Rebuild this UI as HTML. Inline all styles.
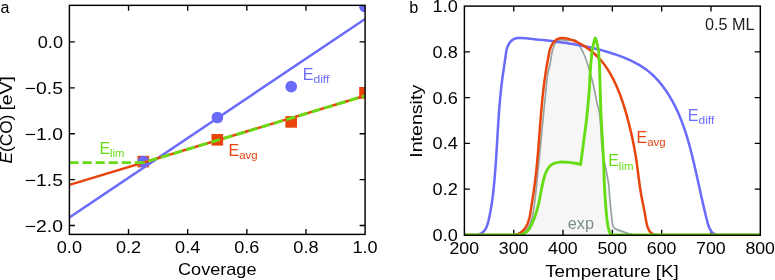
<!DOCTYPE html>
<html><head><meta charset="utf-8"><title>chart</title>
<style>html,body{margin:0;padding:0;background:#fff;}svg{display:block;}text{font-family:"Liberation Sans",sans-serif;}</style>
</head><body>
<svg width="775" height="280" viewBox="0 0 775 280">
<rect x="0" y="0" width="775" height="280" fill="#ffffff"/>
<defs>
<clipPath id="cl"><rect x="69.4" y="5.35" width="295.70000000000005" height="229.05"/></clipPath>
<clipPath id="cr"><rect x="464.4" y="6.1" width="295.9" height="229.15"/></clipPath>
</defs>
<path d="M464.5 234.95C472.42 234.95 503.42 234.99 512 234.95C513.44 234.94 514.57 234.88 516 234.7C517.5 234.51 519.33 234.55 521 233.8C522.75 233.02 524.97 231.86 526.5 230C528.12 228.03 529.57 225 530.7 222C531.83 219 532.7 215.67 533.3 212C534.23 206.33 535.38 196.66 536.3 188C537.72 174.67 539.95 150.67 541.8 132C543.65 113.33 546.02 87.38 547.4 76C547.95 71.52 549.32 67.75 550.1 63.75C550.88 59.75 551.38 55.12 552.1 52C552.69 49.41 553.58 46.78 554.4 45C555.08 43.52 555.86 42.2 557 41.3C558.14 40.4 559.71 39.72 561.25 39.6C562.79 39.48 564.79 40.5 566.25 40.6C567.6 40.69 568.65 40.29 570 40.2C571.46 40.1 573.75 39.62 575 40C576.22 40.37 576.72 41.49 577.5 42.5C578.33 43.58 579.18 45.02 580 46.5C581.04 48.38 582.71 51.5 583.75 53.75C584.77 55.95 585.48 57.7 586.25 60C587.29 63.12 588.96 68.96 590 72.5C590.92 75.64 591.71 78.07 592.5 81.25C593.33 84.58 594.27 88.96 595 92.5C595.73 96.04 596.17 99.17 596.9 102.5C597.63 105.83 598.8 108.84 599.4 112.5C600.02 116.25 600.25 120.49 600.6 125C601.08 131.25 601.47 142.92 602.3 150C603.05 156.37 604.73 162.92 605.6 167.5C606.28 171.1 606.98 174.58 607.5 177.5C607.98 180.19 608.44 182.28 608.75 185C609.12 188.25 609.31 192.68 609.7 197C610.14 201.88 610.85 209.47 611.4 214.3C611.88 218.52 612.35 223.58 613 226C613.34 227.26 614.18 228.13 615.3 228.8C616.8 229.7 619.8 230.62 622 231.4C624.2 232.18 626.7 232.95 628.5 233.5C630.04 233.97 631.38 234.46 632.8 234.7C634.22 234.94 635.49 234.95 637 234.95C658.28 234.99 739.92 234.95 760.5 234.95Z" fill="#f6f6f6" stroke="none" clip-path="url(#cr)"/>
<g stroke="#000000" stroke-width="1.35" fill="none" stroke-linecap="butt">
<path d="M128.54 234.4v-5.5M128.54 5.35v5.5"/>
<path d="M187.68 234.4v-5.5M187.68 5.35v5.5"/>
<path d="M246.82 234.4v-5.5M246.82 5.35v5.5"/>
<path d="M305.96 234.4v-5.5M305.96 5.35v5.5"/>
<path d="M69.4 225.5h5.5M365.1 225.5h-5.5"/>
<path d="M69.4 179.6h5.5M365.1 179.6h-5.5"/>
<path d="M69.4 133.7h5.5M365.1 133.7h-5.5"/>
<path d="M69.4 87.8h5.5M365.1 87.8h-5.5"/>
<path d="M69.4 41.9h5.5M365.1 41.9h-5.5"/>
<path d="M513.72 235.25v-5.5M513.72 6.1v5.5"/>
<path d="M563.03 235.25v-5.5M563.03 6.1v5.5"/>
<path d="M612.35 235.25v-5.5M612.35 6.1v5.5"/>
<path d="M661.67 235.25v-5.5M661.67 6.1v5.5"/>
<path d="M710.98 235.25v-5.5M710.98 6.1v5.5"/>
<path d="M464.4 189.14h5.5M760.3 189.14h-5.5"/>
<path d="M464.4 143.38h5.5M760.3 143.38h-5.5"/>
<path d="M464.4 97.62h5.5M760.3 97.62h-5.5"/>
<path d="M464.4 51.86h5.5M760.3 51.86h-5.5"/>
</g>
<g clip-path="url(#cl)">
<rect x="137.5" y="155.8" width="11.6" height="11.6" fill="#e8440b"/>
<rect x="211.5" y="134" width="11.6" height="11.6" fill="#e8440b"/>
<rect x="285.4" y="116.1" width="11.6" height="11.6" fill="#e8440b"/>
<rect x="359.2" y="87.1" width="11.6" height="11.6" fill="#e8440b"/>
<circle cx="143.4" cy="161.7" r="5.85" fill="#6a6afb"/>
<circle cx="217.4" cy="117.5" r="5.85" fill="#6a6afb"/>
<circle cx="291.2" cy="86.6" r="5.85" fill="#6a6afb"/>
<circle cx="365" cy="6.5" r="5.85" fill="#6a6afb"/>
<line x1="69.4" y1="217.5" x2="365.1" y2="19.0" stroke="#6a6afb" stroke-width="2.5"/>
<line x1="69.4" y1="184.9" x2="365.1" y2="95.8" stroke="#e8440b" stroke-width="2.5"/>
<path d="M69.4 162.6H143.41" fill="none" stroke="#66dc14" stroke-width="2.9" stroke-dasharray="9.2 3.9"/>
<path d="M143.41 162.6L365.1 95.8" fill="none" stroke="#66dc14" stroke-width="2.9" stroke-dasharray="9.2 3.9" stroke-dashoffset="7.9"/>
</g>
<g clip-path="url(#cr)" fill="none" stroke-linejoin="round">
<path d="M464.5 234.95C472.42 234.95 503.42 234.99 512 234.95C513.44 234.94 514.57 234.88 516 234.7C517.5 234.51 519.33 234.55 521 233.8C522.75 233.02 524.97 231.86 526.5 230C528.12 228.03 529.57 225 530.7 222C531.83 219 532.7 215.67 533.3 212C534.23 206.33 535.38 196.66 536.3 188C537.72 174.67 539.95 150.67 541.8 132C543.65 113.33 546.02 87.38 547.4 76C547.95 71.52 549.32 67.75 550.1 63.75C550.88 59.75 551.38 55.12 552.1 52C552.69 49.41 553.58 46.78 554.4 45C555.08 43.52 555.86 42.2 557 41.3C558.14 40.4 559.71 39.72 561.25 39.6C562.79 39.48 564.79 40.5 566.25 40.6C567.6 40.69 568.65 40.29 570 40.2C571.46 40.1 573.75 39.62 575 40C576.22 40.37 576.72 41.49 577.5 42.5C578.33 43.58 579.18 45.02 580 46.5C581.04 48.38 582.71 51.5 583.75 53.75C584.77 55.95 585.48 57.7 586.25 60C587.29 63.12 588.96 68.96 590 72.5C590.92 75.64 591.71 78.07 592.5 81.25C593.33 84.58 594.27 88.96 595 92.5C595.73 96.04 596.17 99.17 596.9 102.5C597.63 105.83 598.8 108.84 599.4 112.5C600.02 116.25 600.25 120.49 600.6 125C601.08 131.25 601.47 142.92 602.3 150C603.05 156.37 604.73 162.92 605.6 167.5C606.28 171.1 606.98 174.58 607.5 177.5C607.98 180.19 608.44 182.28 608.75 185C609.12 188.25 609.31 192.68 609.7 197C610.14 201.88 610.85 209.47 611.4 214.3C611.88 218.52 612.35 223.58 613 226C613.34 227.26 614.18 228.13 615.3 228.8C616.8 229.7 619.8 230.62 622 231.4C624.2 232.18 626.7 232.95 628.5 233.5C630.04 233.97 631.38 234.46 632.8 234.7C634.22 234.94 635.49 234.95 637 234.95C658.28 234.99 739.92 234.95 760.5 234.95" stroke="#96a2a4" stroke-width="1.7"/>
<path d="M464.5 234.95L466.03 234.95L468.08 234.95L470.21 234.95L472.39 234.95L474.58 234.95L476.74 234.82L478.81 234.37L480.74 233.61L482.48 232.5L484 231.08L485.28 229.41L486.31 227.55L487.13 225.55L487.78 223.46L488.33 221.32L488.82 219.17L489.29 217.05L489.73 214.94L490.15 212.84L490.55 210.75L490.92 208.67L491.28 206.59L491.62 204.51L491.93 202.43L492.23 200.33L492.51 198.23L492.78 196.13L493.03 194.02L493.27 191.91L493.5 189.79L493.72 187.67L493.93 185.56L494.14 183.44L494.34 181.31L494.53 179.19L494.71 177.07L494.89 174.94L495.06 172.82L495.22 170.69L495.39 168.56L495.54 166.43L495.69 164.3L495.84 162.17L495.99 160.04L496.13 157.91L496.27 155.78L496.4 153.64L496.54 151.51L496.67 149.38L496.8 147.24L496.93 145.11L497.05 142.98L497.18 140.84L497.31 138.71L497.43 136.58L497.56 134.44L497.69 132.31L497.82 130.18L497.95 128.04L498.09 125.91L498.22 123.78L498.36 121.65L498.51 119.52L498.65 117.39L498.8 115.26L498.95 113.13L499.11 111L499.27 108.87L499.44 106.75L499.62 104.62L499.8 102.5L499.98 100.38L500.17 98.26L500.37 96.14L500.58 94.02L500.79 91.9L501.02 89.79L501.25 87.67L501.49 85.56L501.74 83.45L501.99 81.34L502.26 79.24L502.54 77.13L502.83 75.03L503.13 72.93L503.43 70.83L503.74 68.73L504.06 66.62L504.37 64.52L504.68 62.41L504.99 60.29L505.29 58.17L505.58 56.04L505.87 53.9L506.2 51.77L506.64 49.66L507.23 47.58L508.05 45.54L509.13 43.57L510.46 41.76L512.02 40.24L513.73 39.13L515.59 38.42L517.55 38.04L519.59 37.92L521.7 37.98L523.84 38.15L525.99 38.36L528.14 38.57L530.29 38.78L532.43 38.99L534.58 39.21L536.72 39.43L538.85 39.65L540.99 39.88L543.13 40.11L545.26 40.35L547.39 40.59L549.51 40.83L551.64 41.09L553.76 41.35L555.88 41.61L558 41.89L560.11 42.17L562.22 42.46L564.33 42.77L566.44 43.08L568.54 43.4L570.64 43.73L572.74 44.07L574.84 44.43L576.93 44.79L579.02 45.17L581.11 45.56L583.19 45.97L585.27 46.39L587.35 46.82L589.42 47.27L591.49 47.74L593.56 48.22L595.63 48.71L597.69 49.23L599.75 49.76L601.8 50.31L603.85 50.87L605.9 51.46L607.94 52.06L609.99 52.69L612.02 53.33L614.06 54L616.09 54.68L618.11 55.39L620.13 56.13L622.13 56.89L624.13 57.68L626.11 58.49L628.08 59.34L630.03 60.22L631.96 61.13L633.87 62.08L635.76 63.07L637.62 64.09L639.46 65.16L641.27 66.26L643.05 67.41L644.8 68.6L646.52 69.84L648.2 71.12L649.84 72.46L651.45 73.84L653.01 75.28L654.54 76.75L656.03 78.28L657.48 79.84L658.9 81.44L660.28 83.08L661.63 84.75L662.94 86.45L664.22 88.18L665.46 89.93L666.67 91.71L667.84 93.51L668.99 95.33L670.1 97.17L671.18 99.02L672.23 100.88L673.25 102.76L674.24 104.65L675.21 106.55L676.14 108.46L677.05 110.38L677.93 112.32L678.79 114.26L679.63 116.22L680.44 118.18L681.22 120.16L681.99 122.14L682.73 124.13L683.46 126.14L684.16 128.14L684.85 130.16L685.51 132.18L686.16 134.21L686.8 136.24L687.41 138.28L688.02 140.33L688.6 142.38L689.18 144.43L689.74 146.49L690.29 148.55L690.83 150.62L691.36 152.69L691.88 154.76L692.39 156.83L692.89 158.91L693.39 160.98L693.88 163.06L694.36 165.13L694.84 167.21L695.31 169.28L695.78 171.36L696.25 173.43L696.71 175.51L697.18 177.58L697.64 179.65L698.1 181.73L698.56 183.8L699.01 185.88L699.47 187.95L699.93 190.03L700.39 192.11L700.86 194.19L701.32 196.27L701.79 198.35L702.26 200.43L702.73 202.52L703.21 204.6L703.69 206.69L704.17 208.78L704.67 210.88L705.16 212.97L705.67 215.07L706.18 217.17L706.69 219.28L707.22 221.38L707.78 223.48L708.41 225.54L709.16 227.54L710.08 229.45L711.19 231.23L712.53 232.75L714.14 233.88L716 234.61L718.04 234.95L720.21 234.95L722.43 234.95L724.66 234.95L726.84 234.95L728.95 234.95L730.97 234.95L760.5 234.95" stroke="#6a6afb" stroke-width="2.5"/>
<path d="M464.5 234.95L500.01 234.95L501.82 234.95L503.63 234.95L505.44 234.95L507.26 234.95L509.09 234.95L510.94 234.95L512.79 234.95L514.63 234.84L516.42 234.51L518.14 233.97L519.77 233.17L521.28 232.15L522.66 230.98L523.9 229.69L525 228.3L525.96 226.83L526.81 225.27L527.55 223.65L528.2 221.97L528.76 220.24L529.25 218.47L529.67 216.66L530.05 214.82L530.38 212.97L530.69 211.11L530.97 209.25L531.25 207.4L531.54 205.56L531.82 203.74L532.1 201.93L532.38 200.13L532.66 198.33L532.94 196.55L533.21 194.76L533.48 192.99L533.74 191.21L534 189.43L534.25 187.66L534.49 185.87L534.73 184.09L534.96 182.3L535.18 180.52L535.4 178.72L535.61 176.93L535.82 175.13L536.02 173.33L536.21 171.53L536.4 169.73L536.59 167.92L536.77 166.12L536.94 164.31L537.11 162.5L537.28 160.68L537.45 158.87L537.61 157.06L537.76 155.24L537.92 153.42L538.07 151.6L538.22 149.78L538.37 147.96L538.51 146.14L538.66 144.31L538.8 142.49L538.94 140.67L539.08 138.84L539.22 137.01L539.36 135.19L539.5 133.36L539.64 131.54L539.78 129.71L539.92 127.88L540.06 126.06L540.2 124.23L540.34 122.4L540.49 120.58L540.63 118.75L540.78 116.93L540.93 115.11L541.08 113.28L541.24 111.46L541.4 109.64L541.56 107.82L541.72 106L541.89 104.18L542.06 102.36L542.24 100.55L542.42 98.73L542.61 96.92L542.8 95.11L542.99 93.3L543.19 91.49L543.4 89.69L543.61 87.88L543.83 86.08L544.05 84.28L544.29 82.49L544.52 80.69L544.77 78.9L545.02 77.11L545.28 75.32L545.55 73.54L545.82 71.76L546.11 69.97L546.4 68.19L546.69 66.41L547 64.63L547.31 62.84L547.62 61.06L547.95 59.27L548.28 57.47L548.61 55.67L548.95 53.87L549.32 52.07L549.75 50.28L550.27 48.51L550.91 46.78L551.71 45.1L552.67 43.49L553.79 42.01L555.05 40.71L556.45 39.63L557.99 38.82L559.64 38.31L561.39 38.08L563.21 38.08L565.06 38.27L566.93 38.61L568.77 39.06L570.58 39.58L572.33 40.15L574.05 40.78L575.73 41.47L577.37 42.21L578.98 43L580.56 43.84L582.12 44.73L583.65 45.65L585.17 46.63L586.67 47.64L588.15 48.69L589.61 49.77L591.05 50.9L592.47 52.06L593.86 53.25L595.22 54.48L596.55 55.74L597.86 57.03L599.12 58.35L600.35 59.7L601.55 61.08L602.7 62.48L603.82 63.92L604.91 65.37L605.96 66.85L606.98 68.35L607.96 69.87L608.92 71.41L609.85 72.97L610.75 74.54L611.63 76.13L612.48 77.73L613.31 79.35L614.12 80.98L614.91 82.61L615.67 84.26L616.42 85.92L617.15 87.58L617.85 89.26L618.55 90.94L619.22 92.63L619.87 94.33L620.51 96.03L621.14 97.74L621.75 99.46L622.34 101.19L622.92 102.92L623.49 104.65L624.04 106.39L624.58 108.13L625.11 109.88L625.63 111.63L626.13 113.39L626.63 115.14L627.12 116.9L627.59 118.67L628.06 120.43L628.52 122.19L628.97 123.96L629.42 125.72L629.86 127.49L630.29 129.25L630.71 131.02L631.12 132.79L631.53 134.56L631.93 136.33L632.31 138.11L632.69 139.88L633.07 141.66L633.43 143.44L633.78 145.22L634.12 147L634.46 148.78L634.78 150.57L635.1 152.36L635.4 154.15L635.7 155.95L635.98 157.74L636.26 159.54L636.52 161.35L636.78 163.15L637.03 164.96L637.27 166.77L637.51 168.58L637.75 170.39L637.98 172.2L638.21 174.01L638.45 175.82L638.68 177.63L638.92 179.44L639.16 181.25L639.4 183.05L639.65 184.86L639.91 186.66L640.17 188.46L640.45 190.26L640.74 192.05L641.03 193.84L641.34 195.62L641.67 197.4L642.01 199.18L642.36 200.95L642.71 202.72L643.08 204.49L643.44 206.26L643.8 208.04L644.16 209.83L644.51 211.62L644.85 213.41L645.18 215.22L645.48 217.04L645.78 218.88L646.09 220.71L646.44 222.53L646.85 224.33L647.34 226.11L647.94 227.85L648.67 229.54L649.56 231.12L650.64 232.51L651.94 233.63L653.46 234.42L655.15 234.89L656.96 234.95L658.84 234.95L660.73 234.95L662.6 234.95L664.44 234.95L666.24 234.95L667.98 234.95L760.5 234.95" stroke="#e8440b" stroke-width="2.5"/>
<path d="M464.5 234.95C472.92 234.95 505.92 234.99 515 234.95C516.44 234.94 517.57 234.88 519 234.7C520.5 234.51 522.4 234.69 524 233.8C525.7 232.85 527.8 231.13 529.2 229C530.93 226.37 532.86 222.1 534.4 218C535.97 213.83 537.38 209 538.6 204C539.82 199 540.7 192.67 541.7 188C542.63 183.65 543.5 179.33 544.6 176C545.59 172.99 546.9 170.03 548.3 168C549.59 166.13 551.05 164.78 553 163.8C554.95 162.82 557.42 162.33 560 162.1C562.67 161.87 566.5 162.2 569 162.4C571.18 162.57 573.07 162.97 575 163.3C576.93 163.63 579.67 164.22 580.6 164.4C580.82 162.83 581.45 158.39 581.9 155C582.47 150.77 583.24 144.76 584 139C584.77 133.17 585.76 126.86 586.5 120C587.38 111.83 588.72 97.33 589.3 90C589.7 84.97 589.77 80.17 590 76C590.22 72.04 590.5 67.67 590.7 65C590.84 63.2 591.04 61.8 591.2 60C591.38 57.92 591.57 54.5 591.8 52.5C591.99 50.87 592.35 49.3 592.6 48C592.83 46.81 593.1 45.62 593.3 44.7C593.47 43.91 593.63 43.22 593.8 42.5C593.97 41.78 594.14 40.98 594.3 40.4C594.44 39.89 594.58 39.4 594.75 39C594.91 38.62 595.12 38 595.3 38C595.48 38 595.69 38.62 595.85 39C596.02 39.4 596.16 39.89 596.3 40.4C596.46 40.98 596.63 41.78 596.8 42.5C596.97 43.22 597.13 43.91 597.3 44.7C597.5 45.62 597.79 46.8 598 48C598.23 49.3 598.55 50.87 598.7 52.5C598.88 54.5 598.97 57.92 599.1 60C599.22 61.8 599.42 63.2 599.5 65C599.62 67.67 599.69 72.04 599.8 76C599.92 80.17 600.03 84.96 600.2 90C600.44 97.33 600.74 109.21 601.25 120C601.77 130.83 602.77 144.17 603.3 155C603.82 165.79 604.05 177.27 604.4 185C604.67 190.91 604.95 195.5 605.4 201.4C605.85 207.35 606.45 215.67 607.1 220.7C607.61 224.67 608.58 229.28 609.3 231.6C609.69 232.86 610.62 234.04 611.4 234.6C612.17 235.15 613.06 234.95 614 234.95C638.85 235.01 736.08 234.95 760.5 234.95" stroke="#66dc14" stroke-width="2.9" stroke-linejoin="miter" stroke-miterlimit="1.8"/>
</g>
<g stroke="#000000" stroke-width="1.45" fill="none">
<rect x="69.4" y="5.35" width="295.7" height="229.05"/>
<rect x="464.4" y="6.1" width="295.9" height="229.15"/>
</g>
<g font-family='"Liberation Sans", sans-serif' opacity="0.999">
<text x="56.8" y="253" font-size="16.6" text-anchor="start" fill="#000000" textLength="25.2" lengthAdjust="spacingAndGlyphs">0.0</text>
<text x="115.94" y="253" font-size="16.6" text-anchor="start" fill="#000000" textLength="25.2" lengthAdjust="spacingAndGlyphs">0.2</text>
<text x="175.08" y="253" font-size="16.6" text-anchor="start" fill="#000000" textLength="25.2" lengthAdjust="spacingAndGlyphs">0.4</text>
<text x="234.22" y="253" font-size="16.6" text-anchor="start" fill="#000000" textLength="25.2" lengthAdjust="spacingAndGlyphs">0.6</text>
<text x="293.36" y="253" font-size="16.6" text-anchor="start" fill="#000000" textLength="25.2" lengthAdjust="spacingAndGlyphs">0.8</text>
<text x="352.5" y="253" font-size="16.6" text-anchor="start" fill="#000000" textLength="25.2" lengthAdjust="spacingAndGlyphs">1.0</text>
<text x="24.8" y="231.5" font-size="16.6" text-anchor="start" fill="#000000" textLength="38.2" lengthAdjust="spacingAndGlyphs">−2.0</text>
<text x="24.8" y="185.6" font-size="16.6" text-anchor="start" fill="#000000" textLength="38.2" lengthAdjust="spacingAndGlyphs">−1.5</text>
<text x="24.8" y="139.7" font-size="16.6" text-anchor="start" fill="#000000" textLength="38.2" lengthAdjust="spacingAndGlyphs">−1.0</text>
<text x="24.8" y="93.8" font-size="16.6" text-anchor="start" fill="#000000" textLength="38.2" lengthAdjust="spacingAndGlyphs">−0.5</text>
<text x="37.8" y="47.9" font-size="16.6" text-anchor="start" fill="#000000" textLength="25.2" lengthAdjust="spacingAndGlyphs">0.0</text>
<text x="178" y="275.2" font-size="16.6" text-anchor="start" fill="#000000" textLength="78.5" lengthAdjust="spacingAndGlyphs">Coverage</text>
<text transform="translate(12.1 163.6) rotate(-90)" font-size="16.6" fill="#000000" textLength="49.0" lengthAdjust="spacingAndGlyphs"><tspan font-style="italic">E</tspan>(CO)</text>
<text transform="translate(12.1 110.5) rotate(-90)" font-size="16.6" fill="#000000" textLength="34.4" lengthAdjust="spacingAndGlyphs">[eV]</text>
<text x="449.5" y="253.7" font-size="16.6" text-anchor="start" fill="#000000" textLength="29.6" lengthAdjust="spacingAndGlyphs">200</text>
<text x="498.82" y="253.7" font-size="16.6" text-anchor="start" fill="#000000" textLength="29.6" lengthAdjust="spacingAndGlyphs">300</text>
<text x="548.13" y="253.7" font-size="16.6" text-anchor="start" fill="#000000" textLength="29.6" lengthAdjust="spacingAndGlyphs">400</text>
<text x="597.45" y="253.7" font-size="16.6" text-anchor="start" fill="#000000" textLength="29.6" lengthAdjust="spacingAndGlyphs">500</text>
<text x="646.77" y="253.7" font-size="16.6" text-anchor="start" fill="#000000" textLength="29.6" lengthAdjust="spacingAndGlyphs">600</text>
<text x="696.08" y="253.7" font-size="16.6" text-anchor="start" fill="#000000" textLength="29.6" lengthAdjust="spacingAndGlyphs">700</text>
<text x="745.4" y="253.7" font-size="16.6" text-anchor="start" fill="#000000" textLength="29.6" lengthAdjust="spacingAndGlyphs">800</text>
<text x="432.6" y="241" font-size="16.6" text-anchor="start" fill="#000000" textLength="25.2" lengthAdjust="spacingAndGlyphs">0.0</text>
<text x="432.6" y="195.24" font-size="16.6" text-anchor="start" fill="#000000" textLength="25.2" lengthAdjust="spacingAndGlyphs">0.2</text>
<text x="432.6" y="149.48" font-size="16.6" text-anchor="start" fill="#000000" textLength="25.2" lengthAdjust="spacingAndGlyphs">0.4</text>
<text x="432.6" y="103.72" font-size="16.6" text-anchor="start" fill="#000000" textLength="25.2" lengthAdjust="spacingAndGlyphs">0.6</text>
<text x="432.6" y="57.96" font-size="16.6" text-anchor="start" fill="#000000" textLength="25.2" lengthAdjust="spacingAndGlyphs">0.8</text>
<text x="432.6" y="12.2" font-size="16.6" text-anchor="start" fill="#000000" textLength="25.2" lengthAdjust="spacingAndGlyphs">1.0</text>
<text x="545.2" y="276.5" font-size="16.6" text-anchor="start" fill="#000000" textLength="133.6" lengthAdjust="spacingAndGlyphs">Temperature [K]</text>
<text transform="translate(422.1 157.8) rotate(-90)" font-size="16.6" fill="#000000" textLength="73" lengthAdjust="spacingAndGlyphs">Intensity</text>
<text x="0.6" y="13.1" font-size="16" text-anchor="start" fill="#000000">a</text>
<text x="409.3" y="12.5" font-size="16.2" text-anchor="start" fill="#000000">b</text>
<text x="705" y="29.6" font-size="16" text-anchor="start" fill="#222222" textLength="49.6" lengthAdjust="spacingAndGlyphs">0.5 ML</text>
<text x="567.7" y="228.7" font-size="16" text-anchor="start" fill="#7b8e8e" textLength="26.3" lengthAdjust="spacingAndGlyphs">exp</text>
<text x="302.8" y="79.5" font-size="16" fill="#6a6afb">E</text>
<text x="313.47" y="83.3" font-size="11.2" fill="#6a6afb" textLength="15.9" lengthAdjust="spacingAndGlyphs">diff</text>
<text x="99.4" y="153.7" font-size="16" fill="#66dc14">E</text>
<text x="110.07" y="157.3" font-size="11.2" fill="#66dc14">lim</text>
<text x="228.5" y="155.75" font-size="16" fill="#e8440b">E</text>
<text x="239.17" y="159.45" font-size="11.2" fill="#e8440b" textLength="18.45" lengthAdjust="spacingAndGlyphs">avg</text>
<text x="687.8" y="120.8" font-size="16" fill="#6a6afb">E</text>
<text x="698.47" y="124.25" font-size="11.2" fill="#6a6afb" textLength="15.8" lengthAdjust="spacingAndGlyphs">diff</text>
<text x="636.5" y="142.7" font-size="16" fill="#e8440b">E</text>
<text x="647.17" y="146.2" font-size="11.2" fill="#e8440b" textLength="18.45" lengthAdjust="spacingAndGlyphs">avg</text>
<text x="608.2" y="166.2" font-size="16" fill="#66dc14">E</text>
<text x="618.87" y="169.8" font-size="11.2" fill="#66dc14" textLength="14.6" lengthAdjust="spacingAndGlyphs">lim</text>
</g>
</svg>
</body></html>
